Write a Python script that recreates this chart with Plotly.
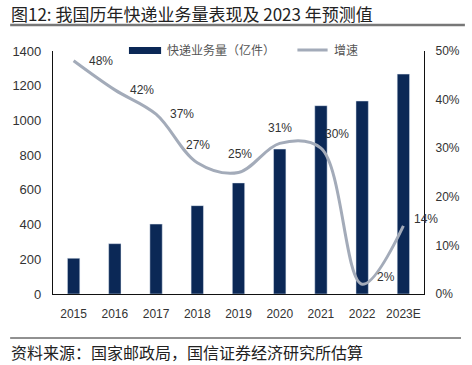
import plotly.graph_objects as go

years = ["2015", "2016", "2017", "2018", "2019", "2020", "2021", "2022", "2023E"]
volume = [206, 290, 403, 509, 640, 835, 1085, 1112, 1267]
growth = [48, 42, 37, 27, 25, 31, 30, 2, 14]
growth_labels = ["48%", "42%", "37%", "27%", "25%", "31%", "30%", "2%", "14%"]
label_xshift = [27, 27, 26, 1, 1, 0, 16, 24, 23]
label_yshift = [0, 0, 0, 18, 19, 15, 14, 7, 7]

W, H = 472, 365
L, R, T, B = 49, 42, 51, 71
pw, ph = W - L - R, H - T - B

def px(x):
    return (x - L) / pw

def py(y):
    return (H - B - y) / ph

CJK = "Noto Sans CJK SC, Noto Sans CJK JP, sans-serif"
NUM = "Liberation Sans, Arial, sans-serif"

fig = go.Figure()
fig.add_trace(go.Bar(x=years, y=volume, marker_color="#0b2856", width=0.3,
                     name="快递业务量（亿件）", yaxis="y", showlegend=False))
fig.add_trace(go.Scatter(x=years, y=growth, mode="lines", yaxis="y2",
                         line=dict(color="#a3abb9", width=3, shape="spline", smoothing=1.0),
                         name="增速", showlegend=False))

ann = []
for i, (g, t, dx, dy) in enumerate(zip(growth, growth_labels, label_xshift, label_yshift)):
    ann.append(dict(x=i, y=g, xref="x", yref="y2", text=t, showarrow=False,
                    xshift=dx, yshift=dy, font=dict(family=NUM, size=12, color="#333333")))

# title & source
ann.append(dict(xref="paper", yref="paper", x=px(4), y=py(13), xanchor="left", yanchor="middle",
                text="图12: 我国历年快递业务量表现及 2023 年预测值", showarrow=False,
                font=dict(family=CJK, size=17, color="#222222")))
ann.append(dict(xref="paper", yref="paper", x=px(4), y=py(352), xanchor="left", yanchor="middle",
                text="资料来源：国家邮政局，国信证券经济研究所估算", showarrow=False,
                font=dict(family=CJK, size=16, color="#222222")))
# legend text
ann.append(dict(xref="paper", yref="paper", x=px(164), y=py(50), xanchor="left", yanchor="middle",
                text="快递业务量（亿件）", showarrow=False,
                font=dict(family=CJK, size=12, color="#555555")))
ann.append(dict(xref="paper", yref="paper", x=px(336), y=py(50), xanchor="left", yanchor="middle",
                text="增速", showarrow=False,
                font=dict(family=CJK, size=12, color="#555555")))

shapes = [
    dict(type="line", xref="paper", yref="paper", x0=px(5), x1=px(472), y0=py(25), y1=py(25),
         line=dict(color="#777777", width=2.5)),
    dict(type="line", xref="paper", yref="paper", x0=px(5), x1=px(468), y0=py(338), y1=py(338),
         line=dict(color="#222222", width=1)),
    dict(type="rect", xref="paper", yref="paper", x0=px(127), x1=px(160), y0=py(54), y1=py(47),
         fillcolor="#0b2856", line=dict(width=0)),
    dict(type="line", xref="paper", yref="paper", x0=px(300), x1=px(331), y0=py(50), y1=py(50),
         line=dict(color="#a3abb9", width=3)),
]

fig.update_layout(
    width=W, height=H,
    margin=dict(l=L, r=R, t=T, b=B),
    plot_bgcolor="white", paper_bgcolor="white",
    showlegend=False,
    xaxis=dict(type="category", range=[-0.5, 8.5], showline=True, linecolor="#111111", linewidth=1.2,
               ticks="", showgrid=False, tickfont=dict(family=NUM, size=12, color="#333333"),
               ticklabelstandoff=8),
    yaxis=dict(range=[0, 1400], dtick=200, showline=True, linecolor="#111111", linewidth=1.2,
               showgrid=False, zeroline=False, ticks="", tickfont=dict(family=NUM, size=13, color="#333333"),
               ticklabelstandoff=8),
    yaxis2=dict(range=[0, 50], dtick=10, overlaying="y", side="right", showline=True,
                linecolor="#111111", linewidth=1.2, showgrid=False, zeroline=False, ticks="",
                ticksuffix="%", tickfont=dict(family=NUM, size=12, color="#333333"),
                ticklabelstandoff=8),
    annotations=ann,
    shapes=shapes,
)

fig.write_html("out.html", config={"displayModeBar": False},
               post_script="document.body.style.margin='0';document.body.style.overflow='hidden';")
